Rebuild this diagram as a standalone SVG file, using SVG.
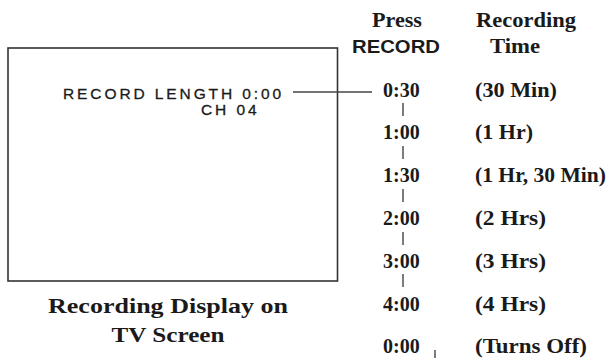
<svg xmlns="http://www.w3.org/2000/svg" width="610" height="358" viewBox="0 0 610 358">
<style>
.hd{font-family:"Liberation Serif",serif;font-weight:bold;font-size:20px;fill:#1a1a1a}
.hs{font-family:"Liberation Sans",sans-serif;font-weight:bold;font-size:19px;fill:#1a1a1a}
.tm{font-family:"Liberation Serif",serif;font-weight:bold;font-size:20px;fill:#1a1a1a}
.osd{font-family:"Liberation Sans",sans-serif;font-size:15.5px;letter-spacing:2.9px;fill:#1a1a1a;stroke:#1a1a1a;stroke-width:0.3}
.cap{font-family:"Liberation Serif",serif;font-weight:bold;font-size:22px;fill:#1a1a1a}
.ln{stroke:#444;stroke-width:1.4;fill:none}
</style>
<rect width="610" height="358" fill="#fff"/>
<g id="tv-screen">
<rect x="8" y="48" width="329.5" height="233" fill="none" stroke="#333" stroke-width="1.6"/>
<text class="osd" x="63" y="99">RECORD LENGTH 0:00</text>
<text class="osd" x="201" y="115">CH 04</text>
</g>
<g id="caption">
<text class="cap" x="168" y="313" text-anchor="middle" textLength="240" lengthAdjust="spacingAndGlyphs">Recording Display on</text>
<text class="cap" x="168" y="342" text-anchor="middle" textLength="113" lengthAdjust="spacingAndGlyphs">TV Screen</text>
</g>
<g id="headers">
<text class="hd" x="397" y="27" text-anchor="middle" textLength="50" lengthAdjust="spacingAndGlyphs">Press</text>
<text class="hs" x="396" y="53" text-anchor="middle" textLength="88" lengthAdjust="spacingAndGlyphs">RECORD</text>
<text class="hd" x="526" y="27" text-anchor="middle" textLength="100" lengthAdjust="spacingAndGlyphs">Recording</text>
<text class="hd" x="515" y="53" text-anchor="middle" textLength="50" lengthAdjust="spacingAndGlyphs">Time</text>
</g>
<g id="row-030"><text class="tm" x="383" y="97">0:30</text><text class="tm" x="475" y="97" textLength="82" lengthAdjust="spacingAndGlyphs">(30 Min)</text></g>
<g id="row-100"><text class="tm" x="383" y="139">1:00</text><text class="tm" x="475" y="139" textLength="58" lengthAdjust="spacingAndGlyphs">(1 Hr)</text></g>
<g id="row-130"><text class="tm" x="383" y="182">1:30</text><text class="tm" x="475" y="182" textLength="131" lengthAdjust="spacingAndGlyphs">(1 Hr, 30 Min)</text></g>
<g id="row-200"><text class="tm" x="383" y="225">2:00</text><text class="tm" x="475" y="225" textLength="71" lengthAdjust="spacingAndGlyphs">(2 Hrs)</text></g>
<g id="row-300"><text class="tm" x="383" y="268">3:00</text><text class="tm" x="475" y="268" textLength="71" lengthAdjust="spacingAndGlyphs">(3 Hrs)</text></g>
<g id="row-400"><text class="tm" x="383" y="311">4:00</text><text class="tm" x="475" y="311" textLength="71" lengthAdjust="spacingAndGlyphs">(4 Hrs)</text></g>
<g id="row-000"><text class="tm" x="383" y="353">0:00</text><text class="tm" x="475" y="353" textLength="112" lengthAdjust="spacingAndGlyphs">(Turns Off)</text></g>
<g id="connectors">
<line class="ln" x1="293" y1="92" x2="372" y2="92"/>
<line class="ln" x1="403" y1="103" x2="403" y2="116"/>
<line class="ln" x1="403" y1="146" x2="403" y2="159"/>
<line class="ln" x1="403" y1="189" x2="403" y2="202"/>
<line class="ln" x1="403" y1="232" x2="403" y2="245"/>
<line class="ln" x1="403" y1="274" x2="403" y2="287"/>
<line class="ln" x1="435" y1="350" x2="435" y2="358"/>
</g>
</svg>
